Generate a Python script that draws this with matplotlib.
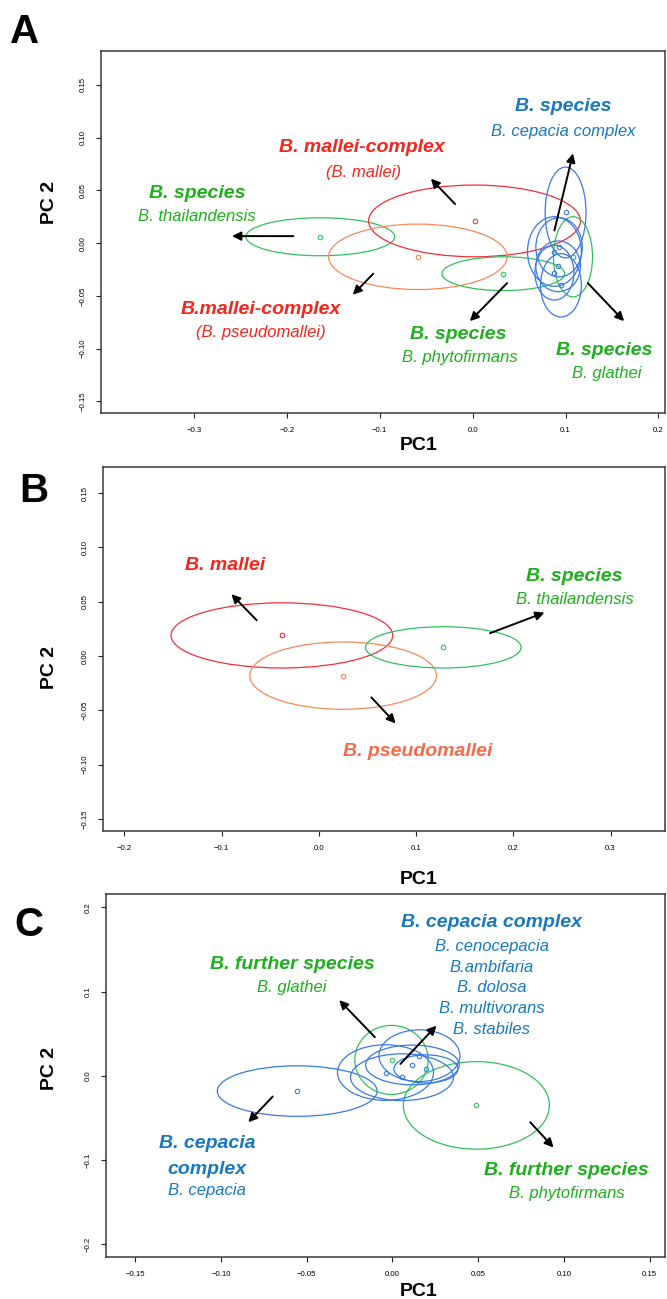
import matplotlib
matplotlib.use("Agg")
import matplotlib.pyplot as plt
from matplotlib.patches import Ellipse

plt.rcParams["font.family"] = ["Liberation Sans", "DejaVu Sans"]

# colours
RED = "#F0303A"
ORANGE = "#F7895A"
GREEN = "#33BF5E"
BLUE = "#3A78E6"
T_RED = "#F5251C"
T_SALMON = "#F86A4C"
T_GREEN = "#1DB01D"
T_BLUE = "#1878C0"

# ---------------- panel A : all Burkholderia ----------------
a_cx = [-0.164, 0.002, -0.059, 0.033, 0.108, 0.100, 0.088, 0.093, 0.092, 0.088, 0.095]
a_cy = [0.006, 0.021, -0.013, -0.029, -0.013, 0.029, -0.008, -0.004, -0.022, -0.028, -0.040]
a_sx = [0.080, 0.114, 0.096, 0.066, 0.021, 0.022, 0.029, 0.025, 0.024, 0.021, 0.022]
a_sy = [0.018, 0.034, 0.031, 0.016, 0.038, 0.043, 0.033, 0.028, 0.024, 0.026, 0.030]
a_col = [GREEN, RED, ORANGE, GREEN, GREEN] + [BLUE] * 6

a_arrow_from = [(-0.193, 0.0066), (-0.019, 0.037), (-0.107, -0.029),
                (0.037, -0.038), (0.124, -0.038), (0.088, 0.012)]
a_arrow_to = [(-0.259, 0.0066), (-0.045, 0.061), (-0.129, -0.049),
              (-0.003, -0.074), (0.163, -0.074), (0.108, 0.085)]

a_titles = ["B. species", "B. mallei-complex", "B.mallei-complex",
            "B. species", "B. species", "B. species"]
a_title_xy = [(-0.296, 0.047), (-0.119, 0.091), (-0.228, -0.063),
              (-0.015, -0.087), (0.142, -0.102), (0.098, 0.129)]
a_title_col = [T_GREEN, T_RED, T_RED, T_GREEN, T_GREEN, T_BLUE]
a_subs = ["B. thailandensis", "(B. mallei)", "(B. pseudomallei)",
          "B. phytofirmans", "B. glathei", "B. cepacia complex"]
a_sub_xy = [(-0.297, 0.025), (-0.118, 0.067), (-0.228, -0.085),
            (-0.014, -0.108), (0.144, -0.124), (0.098, 0.106)]
a_sub_col = [T_GREEN, T_RED, T_RED, T_GREEN, T_GREEN, T_BLUE]

a_xticks = [-0.3, -0.2, -0.1, 0.0, 0.1, 0.2]
a_yticks = [-0.15, -0.10, -0.05, 0.00, 0.05, 0.10, 0.15]

# ---------------- panel B : mallei complex ----------------
b_cx = [-0.038, 0.025, 0.128]
b_cy = [0.019, -0.018, 0.008]
b_sx = [0.114, 0.096, 0.080]
b_sy = [0.030, 0.031, 0.019]
b_col = [RED, ORANGE, GREEN]

b_arrow_from = [(-0.064, 0.033), (0.054, -0.038), (0.176, 0.021)]
b_arrow_to = [(-0.090, 0.057), (0.079, -0.062), (0.232, 0.040)]

b_titles = ["B. mallei", "B. species", "B. pseudomallei"]
b_title_xy = [(-0.096, 0.083), (0.263, 0.073), (0.102, -0.088)]
b_title_col = [T_RED, T_GREEN, T_SALMON]
b_subs = ["B. thailandensis"]
b_sub_xy = [(0.263, 0.052)]
b_sub_col = [T_GREEN]

b_xticks = [-0.2, -0.1, 0.0, 0.1, 0.2, 0.3]
b_yticks = a_yticks

# ---------------- panel C : cepacia complex and others ----------------
c_cx = [-0.0555, 0.049, -0.0005, 0.0158, -0.004, 0.0056, 0.0117, 0.0196]
c_cy = [-0.018, -0.035, 0.019, 0.024, 0.004, -0.0015, 0.0130, 0.0083]
c_sx = [0.0466, 0.0426, 0.0214, 0.0236, 0.028, 0.030, 0.0273, 0.0187]
c_sy = [0.030, 0.052, 0.041, 0.0307, 0.033, 0.0277, 0.0236, 0.0167]
c_col = [BLUE, GREEN, GREEN] + [BLUE] * 5

c_arrow_from = [(-0.0102, 0.046), (0.0047, 0.0142), (-0.0698, -0.0245), (0.0804, -0.055)]
c_arrow_to = [(-0.031, 0.090), (0.0257, 0.0597), (-0.084, -0.055), (0.094, -0.085)]

c_titles = ["B. cepacia complex", "B. further species", "B. cepacia",
            "complex", "B. further species"]
c_title_xy = [(0.058, 0.182), (-0.0586, 0.1325), (-0.108, -0.080),
              (-0.108, -0.1115), (0.1015, -0.1127)]
c_title_col = [T_BLUE, T_GREEN, T_BLUE, T_BLUE, T_GREEN]
c_subs = ["B. cenocepacia", "B.ambifaria", "B. dolosa", "B. multivorans",
          "B. stabiles", "B. glathei", "B. cepacia", "B. phytofirmans"]
c_sub_xy = [(0.058, 0.1535), (0.058, 0.129), (0.058, 0.105), (0.058, 0.080),
            (0.058, 0.0555), (-0.0586, 0.1055), (-0.108, -0.1365), (0.1015, -0.140)]
c_sub_col = [T_BLUE] * 5 + [T_GREEN, T_BLUE, T_GREEN]

c_xticks = [-0.15, -0.10, -0.05, 0.00, 0.05, 0.10, 0.15]
c_yticks = [-0.2, -0.1, 0.0, 0.1, 0.2]


def fmt(v, nd):
    s = f"{v:.{nd}f}"
    if s.startswith("-"):
        s = "\u2212" + s[1:]
    if s == "\u2212" + f"{0:.{nd}f}":
        s = s[1:]
    return s


def panel(ax, cx, cy, sx, sy, cols, afrom, ato, titles, txy, tcol,
          subs, sxy, scol, xt, xnd, yt, ynd, xlim, ylim):
    for x, y, w, h, c in zip(cx, cy, sx, sy, cols):
        ax.add_patch(Ellipse((x, y), 2 * w, 2 * h, fill=False, ec=c, lw=0.9))
        ax.plot(x, y, "o", ms=3.2, mfc="none", mec=c, mew=0.8)
    for p0, p1 in zip(afrom, ato):
        ax.annotate("", xy=p1, xytext=p0,
                    arrowprops=dict(arrowstyle="-|>", color="black", lw=1.4,
                                    mutation_scale=13, shrinkA=0, shrinkB=0))
    for s, (x, y), c in zip(titles, txy, tcol):
        ax.text(x, y, s, color=c, fontsize=14, fontweight="bold",
                style="italic", ha="center", va="center")
    for s, (x, y), c in zip(subs, sxy, scol):
        ax.text(x, y, s, color=c, fontsize=12, style="italic",
                ha="center", va="center")
    ax.set_xlim(*xlim)
    ax.set_ylim(*ylim)
    ax.set_xticks(xt)
    ax.set_xticklabels([fmt(v, xnd) for v in xt])
    ax.set_yticks(yt)
    ax.set_yticklabels([fmt(v, ynd) for v in yt], rotation=90, va="center")
    ax.tick_params(length=3.6, width=0.8, labelsize=5.6, pad=6.5, color="#222222")
    for sp in ax.spines.values():
        sp.set_color("#3a3a3a")
        sp.set_linewidth(1.1)


W, H = 667, 1299
fig = plt.figure(figsize=(W / 100, H / 100), dpi=100)


def box(l, t, r, b):
    return [l / W, 1 - b / H, (r - l) / W, (b - t) / H]


axA = fig.add_axes(box(101, 51, 665, 413))
panel(axA, a_cx, a_cy, a_sx, a_sy, a_col, a_arrow_from, a_arrow_to,
      a_titles, a_title_xy, a_title_col, a_subs, a_sub_xy, a_sub_col,
      a_xticks, 1, a_yticks, 2, (-0.400, 0.207), (-0.161, 0.182))

axB = fig.add_axes(box(103, 467, 665, 831))
panel(axB, b_cx, b_cy, b_sx, b_sy, b_col, b_arrow_from, b_arrow_to,
      b_titles, b_title_xy, b_title_col, b_subs, b_sub_xy, b_sub_col,
      b_xticks, 1, b_yticks, 2, (-0.222, 0.356), (-0.161, 0.174))

axC = fig.add_axes(box(106, 894, 665, 1257))
panel(axC, c_cx, c_cy, c_sx, c_sy, c_col, c_arrow_from, c_arrow_to,
      c_titles, c_title_xy, c_title_col, c_subs, c_sub_xy, c_sub_col,
      c_xticks, 2, c_yticks, 1, (-0.167, 0.159), (-0.215, 0.216))

# axis titles and panel letters (pixel positions)
for x, y in [(419, 446), (419, 879), (419, 1291)]:
    fig.text(x / W, 1 - y / H, "PC1", fontsize=14, fontweight="bold",
             ha="center", va="center")
for x, y in [(50, 203), (50, 667), (50, 1069)]:
    fig.text(x / W, 1 - y / H, "PC 2", fontsize=14, fontweight="bold",
             rotation=90, ha="center", va="center")
for s, x, y in [("A", 25, 32), ("B", 34, 491), ("C", 29, 925)]:
    fig.text(x / W, 1 - y / H, s, fontsize=29, fontweight="bold",
             ha="center", va="center")

fig.savefig("out.png", dpi=100)
